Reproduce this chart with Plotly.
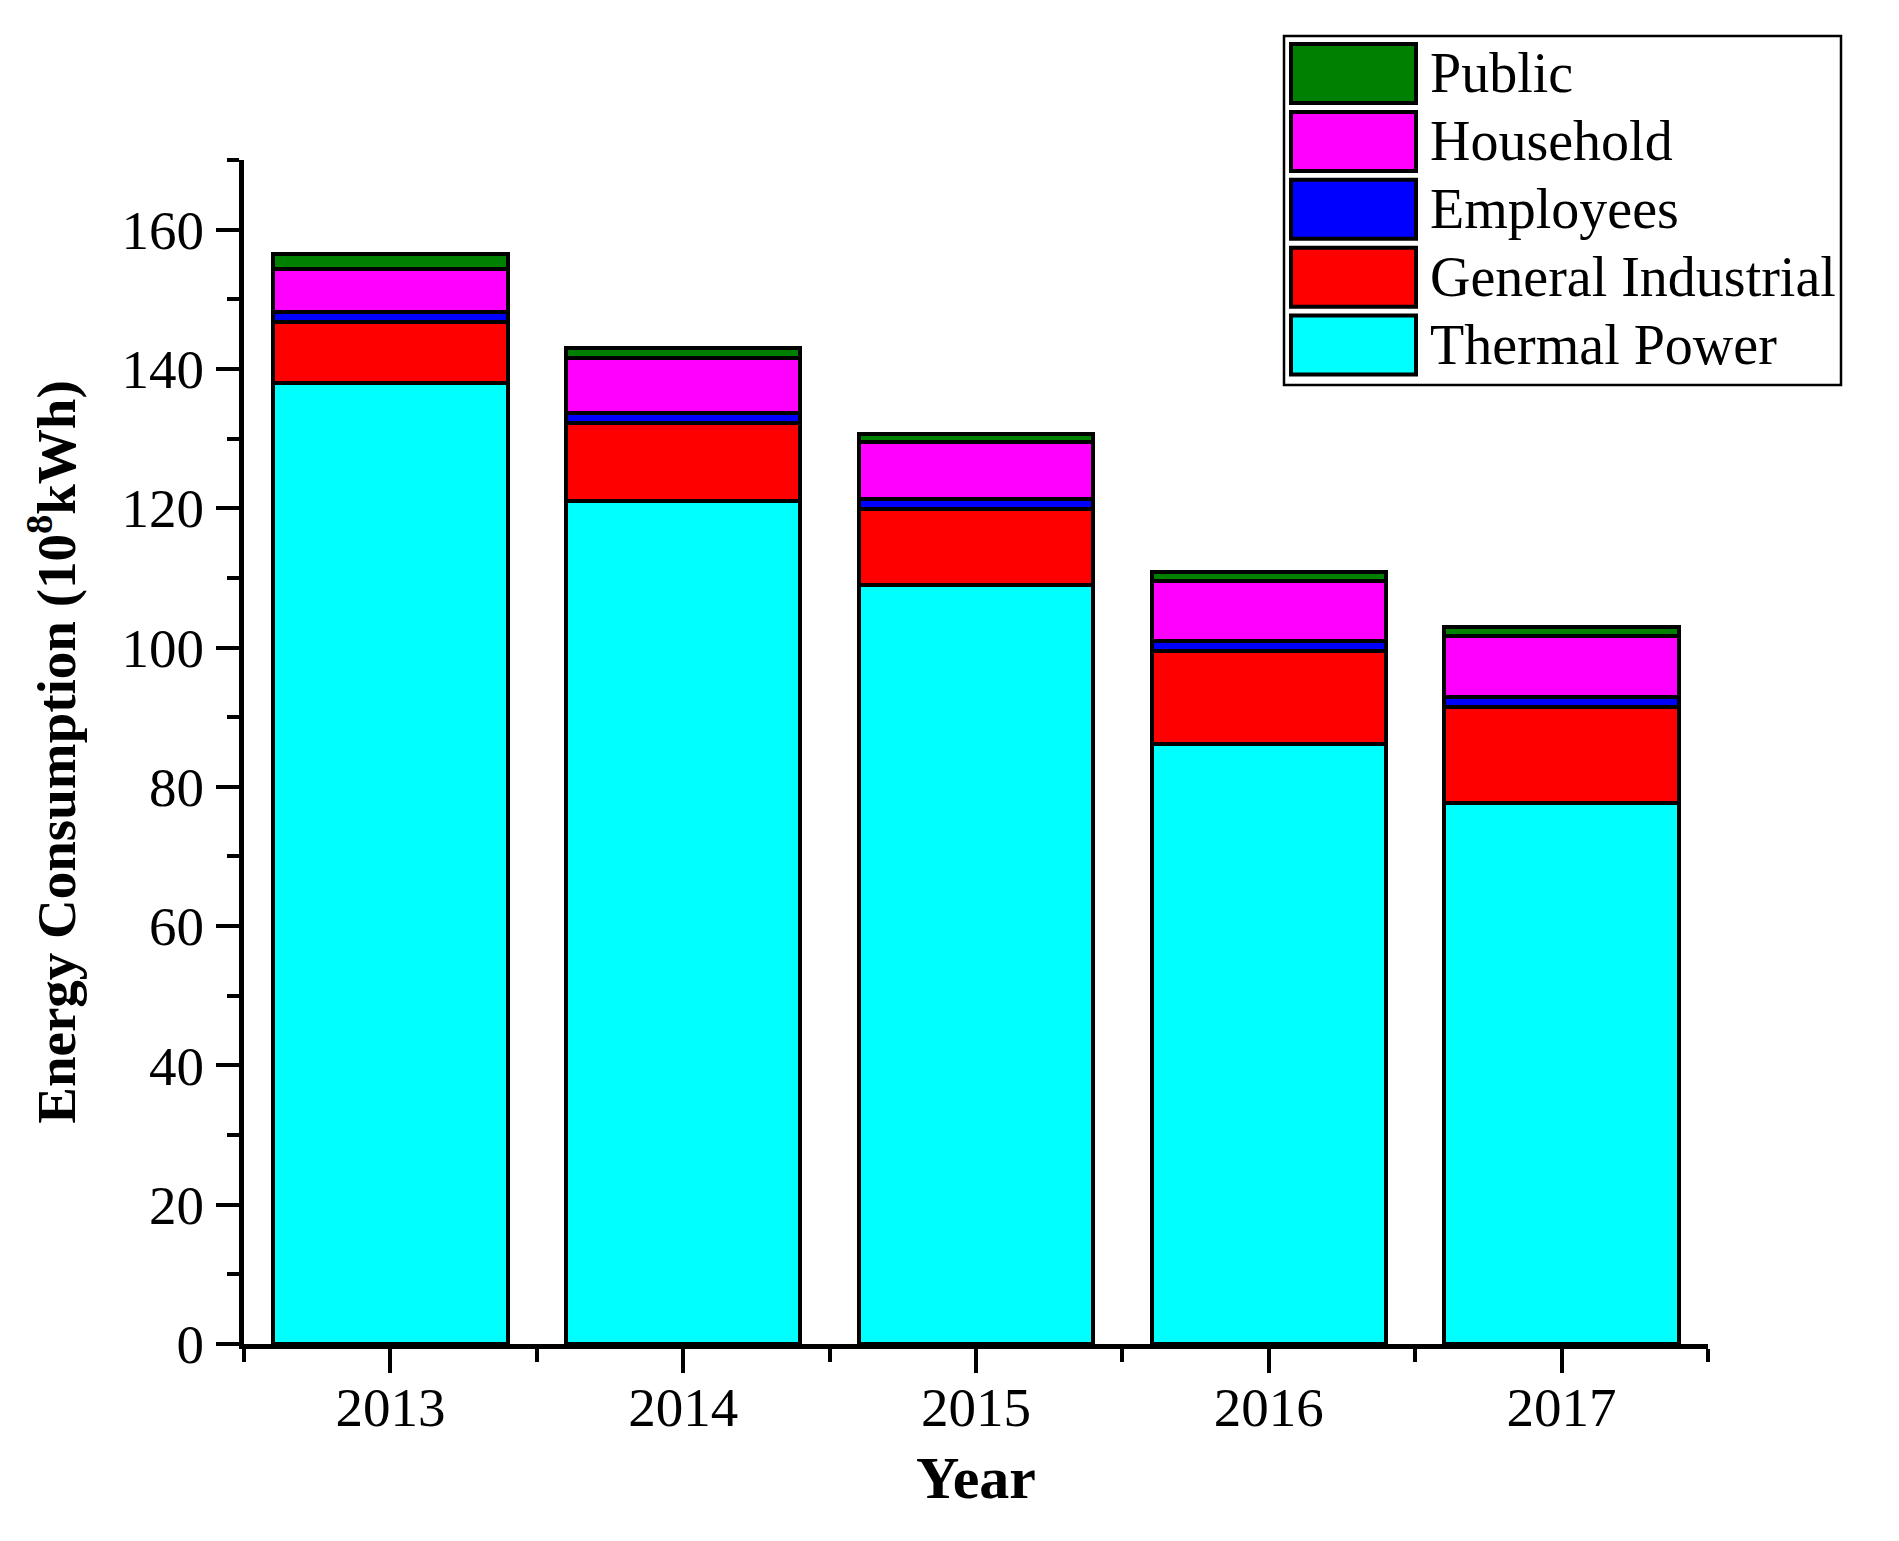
import plotly.graph_objects as go

# ---- data ----
years = [2013, 2014, 2015, 2016, 2017]
thermal_power = [138.0, 121.0, 109.0, 86.1, 77.7]
general_industrial = [8.8, 11.3, 10.9, 13.4, 13.8]
employees = [1.4, 1.4, 1.4, 1.5, 1.4]
household = [6.2, 7.9, 8.2, 8.5, 8.7]
public = [2.1, 1.4, 1.2, 1.3, 1.3]

series_names = ["Thermal Power", "General Industrial", "Employees", "Household", "Public"]
series_values = [thermal_power, general_industrial, employees, household, public]
series_colors = ["#00FFFF", "#FF0000", "#0000FF", "#FF00FF", "#008000"]

FONT = "Liberation Serif, Times New Roman, serif"
W, H = 1899, 1541
ML, MR, MT, MB = 236, 199, 152, 205
PW, PH = W - ML - MR, H - MT - MB

fig = go.Figure()
for name, vals, col in zip(series_names, series_values, series_colors):
    fig.add_trace(go.Bar(
        x=years, y=vals, name=name, width=0.8,
        marker=dict(color=col, line=dict(color="black", width=4)),
        showlegend=False,
    ))

# ---- custom legend (large swatches like the original) ----
def px_to_paper_x(px):
    return (px - ML) / PW

def px_to_paper_y(py):
    return (H - MB - py) / PH

box_x0, box_x1, box_y0, box_y1 = 1276, 1833, 28, 377
fig.add_shape(type="rect", xref="paper", yref="paper",
              x0=px_to_paper_x(box_x0), x1=px_to_paper_x(box_x1),
              y0=px_to_paper_y(box_y1), y1=px_to_paper_y(box_y0),
              line=dict(color="black", width=2.5), fillcolor="white", layer="above")
sw_x0, sw_x1 = 1283, 1408
sw_top0, sw_pitch, sw_h = 36, 67.9, 59
legend_order = list(reversed(range(len(series_names))))
for i, k in enumerate(legend_order):
    top = sw_top0 + i * sw_pitch
    fig.add_shape(type="rect", xref="paper", yref="paper",
                  x0=px_to_paper_x(sw_x0), x1=px_to_paper_x(sw_x1),
                  y0=px_to_paper_y(top + sw_h), y1=px_to_paper_y(top),
                  line=dict(color="black", width=4), fillcolor=series_colors[k], layer="above")
    fig.add_annotation(xref="paper", yref="paper",
                       x=px_to_paper_x(1420), y=px_to_paper_y(top + sw_h / 2),
                       xanchor="left", yanchor="middle", showarrow=False,
                       text=series_names[k], font=dict(family=FONT, size=56, color="black"))

minor_x = [years[0] - 0.5 + i for i in range(len(years) + 1)]

fig.update_layout(
    width=W, height=H,
    margin=dict(l=ML, r=MR, t=MT, b=MB, autoexpand=False),
    paper_bgcolor="white", plot_bgcolor="white",
    barmode="stack",
    showlegend=False,
    font=dict(family=FONT, size=55, color="black"),
    xaxis=dict(
        range=[years[0] - 0.5, years[-1] + 0.5],
        tickmode="array", tickvals=years, ticktext=[str(y) for y in years],
        ticks="outside", ticklen=24, tickwidth=4, tickcolor="black",
        ticklabelstandoff=-13,
        showline=True, linewidth=5, linecolor="black",
        showgrid=False, zeroline=False,
        minor=dict(tickmode="array", tickvals=minor_x, ticks="outside",
                   ticklen=13, tickwidth=4, tickcolor="black", showgrid=False),
        title=dict(text="<b>Year</b>", font=dict(family=FONT, size=60), standoff=20),
        tickfont=dict(family=FONT, size=55),
    ),
    yaxis=dict(
        range=[0, 170],
        tickmode="linear", tick0=0, dtick=20,
        ticks="outside", ticklen=23, tickwidth=4, tickcolor="black",
        ticklabelstandoff=1,
        showline=True, linewidth=5, linecolor="black",
        showgrid=False, zeroline=False,
        minor=dict(tickmode="linear", tick0=0, dtick=10, ticks="outside",
                   ticklen=12, tickwidth=4, tickcolor="black", showgrid=False),
        title=dict(text="<b>Energy Consumption (10<sup>8</sup>kWh)</b>",
                   font=dict(family=FONT, size=55), standoff=30),
        tickfont=dict(family=FONT, size=55),
    ),
)

fig.write_html("out.html")
